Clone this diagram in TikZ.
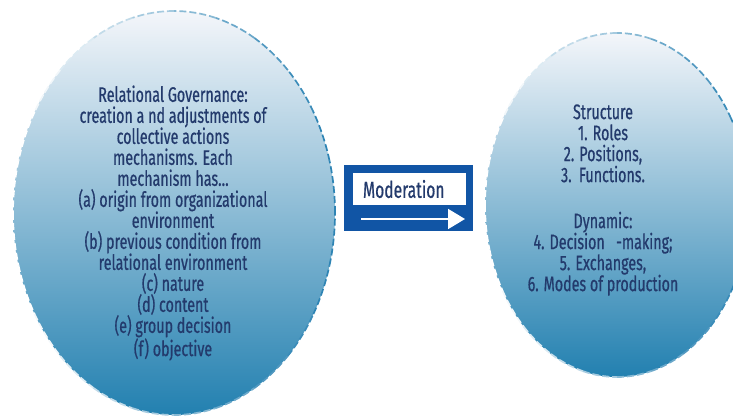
\documentclass[tikz,border=0pt]{standalone}
\usepackage{fontspec}
\setmainfont{Fira Sans}[FakeStretch=0.68,FakeBold=0.6]
\usetikzlibrary{shapes.geometric,arrows.meta,calc}
\definecolor{txt}{HTML}{233A6C}
\definecolor{gtop}{HTML}{F4F6FA}
\definecolor{gmid}{HTML}{95B1CE}
\definecolor{gbot}{HTML}{2280B0}
\definecolor{bdark}{HTML}{2E84B4}
\definecolor{modblue}{HTML}{1155A5}
\tikzset{
  blob/.style={ellipse, inner sep=0pt, top color=gtop, middle color=gmid, bottom color=gbot},
  bodytext/.style={text=txt, align=center, font=\fontsize{21}{21}\selectfont, inner sep=0pt},
  modframe/.style={fill=modblue, inner sep=0pt, minimum width=129pt, minimum height=66pt},
  modlabel/.style={fill=white, text=txt, inner sep=0pt, minimum width=113pt, minimum height=32pt,
    text width=93pt, align=left, font=\fontsize{23}{21}\selectfont},
  rim/.style={line width=1.7pt, dash pattern=on 7pt off 3pt}
}
\newcommand{\dashedrim}[4]{% cx, cy, rx, ry
  \foreach \a in {0,15,...,345}{
    \pgfmathsetmacro{\p}{max(0,min(100,50+55*cos(\a+7.5)))}
    \draw[rim, color=bdark!\p!white] ($(#1,#2)+(\a:#3 and #4)$) arc[start angle=\a, delta angle=15, x radius=#3, y radius=#4];
  }
}
\begin{document}
\begin{tikzpicture}[x=1pt,y=-1pt]
\useasboundingbox (0,0) rectangle (733,417);
\begin{scope}
\clip (0,0) rectangle (733,417);
% left ellipse
\node[blob, minimum width=322pt, minimum height=404pt] (left) at (174,213) {};
\dashedrim{174}{213}{161}{-202}
% right ellipse
\node[blob, minimum width=264pt, minimum height=344pt] (right) at (617,205) {};
\dashedrim{617}{205}{132}{-172}
\end{scope}
\node[bodytext] (lefttext) at (173,223) {Relational Governance:\\
creation a nd adjustments of\\
collective actions\\
mechanisms. Each\\
mechanism has\dots\\
(a) origin from organizational\\
environment\\
(b) previous condition from\\
relational environment\\
(c) nature\\
(d) content\\
(e) group decision\\
(f) objective};
\node[bodytext] (righttext) at (603,200) {Structure\\
1. Roles\\
2. Positions,\\
3.\ \,Functions.\\[25pt]
Dynamic:\\
4. Decision\ \ \ -making;\\
5. Exchanges,\\
6. Modes of production};
% moderation box
\node[modframe] (mod) at (408.5,198) {};
\node[modlabel] (modtext) at (409.5,189) {Moderation};
\coordinate (arrs) at (361,219);
\coordinate (arre) at (465,219);
\draw[white, line width=1.8pt, -{Triangle[length=17pt,width=20pt]}] (arrs) -- (arre);
\end{tikzpicture}
\end{document}
